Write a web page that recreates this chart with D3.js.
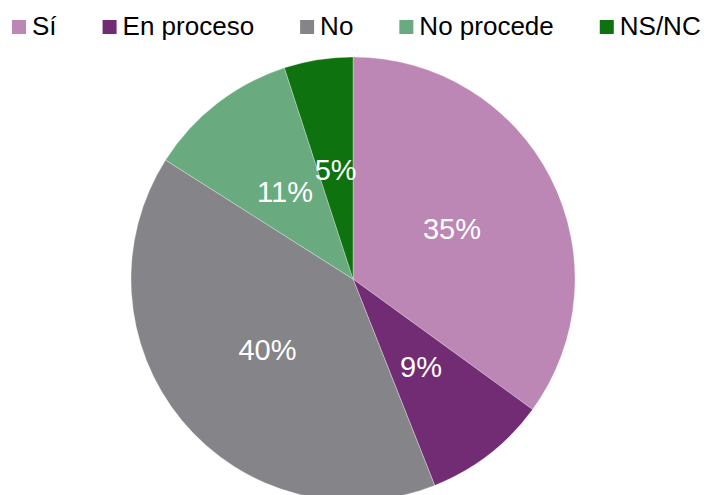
<!DOCTYPE html>
<html>
<head>
<meta charset="utf-8">
<script src="https://cdnjs.cloudflare.com/ajax/libs/d3/7.8.5/d3.min.js"></script>
<style>
  body { margin: 0; background: #fff; }
  svg { display: block; font-family: "Liberation Sans", Arial, sans-serif; }
</style>
</head>
<body>
<div id="chart"></div>
<script>
var categories = ["Sí", "En proceso", "No", "No procede", "NS/NC"];
var values = [35, 9, 40, 11, 5];
var colors = ["#bc86b5", "#722c74", "#858589", "#69aa7f", "#0e730e"];

var width = 704;
var height = 495;

var svg = d3.select("#chart")
  .append("svg")
  .attr("width", width)
  .attr("height", height);

var slices = categories.map(function (c, i) {
  return { name: c, value: values[i], color: colors[i] };
});

// pie
var radius = 222;
var pie = d3.pie()
  .sort(null)
  .value(function (d) { return d.value; });
var arc = d3.arc().innerRadius(0).outerRadius(radius);

var g = svg.append("g")
  .attr("transform", "translate(353,279)");

g.selectAll("path")
  .data(pie(slices))
  .enter()
  .append("path")
  .attr("d", arc)
  .attr("fill", function (d) { return d.data.color; })
  .attr("stroke", "#fff")
  .attr("stroke-width", 0.3);

g.selectAll("text")
  .data(pie(slices))
  .enter()
  .append("text")
  .attr("transform", function (d) {
    var c = arc.centroid(d);
    return "translate(" + c[0] + "," + c[1] + ")";
  })
  .attr("text-anchor", "middle")
  .attr("dy", "0.36em")
  .style("font-size", "29px")
  .style("fill", "#fff")
  .text(function (d) {
    var total = d3.sum(values);
    return Math.round(d.data.value / total * 100) + "%";
  });

// legend
var legend = svg.append("g");
var x = 12;
slices.forEach(function (d) {
  legend.append("rect")
    .attr("x", x)
    .attr("y", 20)
    .attr("width", 14)
    .attr("height", 14)
    .attr("fill", d.color);
  var t = legend.append("text")
    .attr("x", x + 20)
    .attr("y", 35)
    .style("font-size", "26px")
    .style("fill", "#000")
    .text(d.name);
  x += 20 + t.node().getComputedTextLength() + 46;
});
</script>
</body>
</html>
